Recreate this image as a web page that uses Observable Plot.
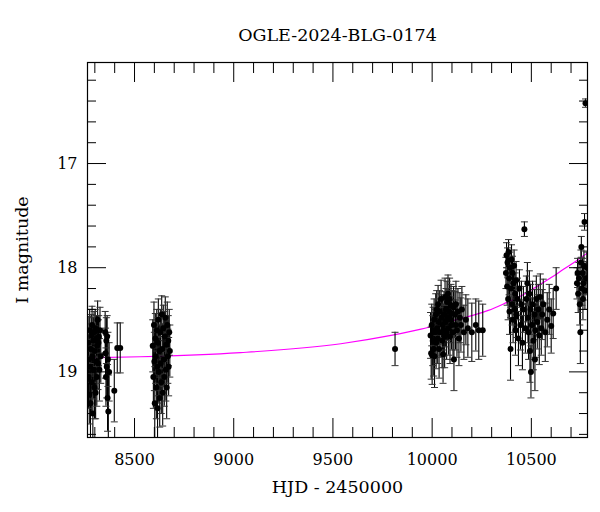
<!DOCTYPE html>
<html><head><meta charset="utf-8">
<script src="https://cdn.jsdelivr.net/npm/d3@7"></script>
<script src="https://cdn.jsdelivr.net/npm/@observablehq/plot@0.6"></script>
<style>body{margin:0;background:#fff}</style>
</head><body><div id="chart"></div>
<script>
const title = "OGLE-2024-BLG-0174";
const xLabel = "HJD - 2450000";
const yLabel = "I magnitude";

const hjd = [
 8266,8268,8270,8272,8274,8276,8278,8280,8282,8284,8286,8288,8290,8292,8294,8296,8298,8300,8302,8304,8306,8308,8310,8312,8314,8316,8318,8320,8323,8326,8330,
 8352,8354,8356,8358,8360,8362,8364,8366,8368,8372,8398,8413,8428,
 8592,8595,8598,8600,8602,8605,8607,8610,8612,8614,8616,8618,8620,8622,8625,8627,8630,8632,8635,8637,8640,8642,8645,8648,8650,8652,8655,8658,8660,8662,8665,8668,8670,8672,8675,8678,
 9813,
 9992,9995,9998,10000,10003,10005,10008,10010,10012,10015,10018,10020,10023,10025,10028,10030,10033,10035,10038,10040,10045,10048,10050,10053,10055,10058,10060,10063,10065,10068,10070,10073,10075,10078,10080,10083,10085,10088,10090,10093,10095,10098,10100,10105,10108,10110,10115,10118,10120,10125,10130,10135,10140,10145,10150,10160,10170,10180,10200,10220,10235,10255,
 10372,10375,10378,10380,10383,10385,10388,10390,10392,10395,10397,10400,10403,10405,10408,10410,10413,10415,10418,10420,10423,10425,10430,10435,10440,10445,10450,10455,10460,10465,10470,10475,10480,10483,10486,10490,10493,10496,10498,10503,10506,10510,10518,10516,10520,10525,10530,10535,10540,10545,10550,10555,10560,10570,10580,10590,10600,10610,10625,
 10730,10733,10736,10747,10752,10740,10744,10750,10755,10758,10768,10760,10773,10762,10765,10770,10776,10780
];
const mag = [
 18.72,19.05,18.88,19.22,18.60,18.95,19.30,18.78,18.65,19.10,18.55,18.85,19.40,18.70,18.98,18.62,19.15,18.80,18.58,19.20,18.90,18.68,19.05,18.75,18.50,18.92,18.72,18.66,18.98,18.60,18.85,
 18.62,18.82,19.05,18.70,18.95,18.66,19.25,18.88,19.38,19.00,19.18,18.77,18.77,
 18.75,19.05,18.55,18.90,19.30,18.68,18.85,19.15,18.60,18.95,19.35,18.72,18.50,19.00,18.80,19.25,18.62,18.92,19.10,18.45,18.78,19.20,18.58,18.88,19.05,18.66,18.48,18.98,18.74,19.15,18.55,18.85,18.70,18.95,18.62,18.80,
 18.78,
 18.65,18.82,18.55,18.84,18.70,18.60,18.78,18.50,18.85,18.62,18.45,18.72,18.40,18.58,18.68,18.35,18.52,18.78,18.42,18.62,18.30,18.48,18.70,18.55,18.83,18.60,18.45,18.66,18.28,18.52,18.40,18.62,18.33,18.48,18.25,18.58,18.42,18.30,18.66,18.50,18.36,18.55,18.44,18.62,18.38,18.88,18.45,18.55,18.35,18.60,18.42,18.68,18.48,18.55,18.40,18.62,18.50,18.58,18.62,18.55,18.60,18.60,
 18.05,17.88,18.18,17.95,18.30,17.85,18.10,18.42,18.00,18.78,18.20,17.92,18.35,18.05,18.50,18.15,17.98,18.40,18.25,18.60,18.12,18.45,18.30,18.68,18.20,18.55,18.35,18.72,18.40,17.63,18.58,18.30,18.15,18.48,18.62,18.25,18.80,18.40,19.00,18.55,18.35,18.70,18.88,18.45,18.60,18.30,18.52,18.40,18.65,18.28,18.58,18.45,18.35,18.62,18.50,18.40,18.56,18.44,18.20,
 18.15,18.05,18.25,18.62,17.80,18.10,18.35,17.95,18.20,18.05,17.56,18.30,16.42,18.15,17.98,18.22,18.10,18.00
];
const magErr = [
 0.25,0.30,0.22,0.28,0.20,0.26,0.35,0.24,0.20,0.30,0.18,0.25,0.30,0.22,0.28,0.20,0.30,0.24,0.18,0.25,0.26,0.22,0.28,0.24,0.18,0.25,0.22,0.20,0.30,0.22,0.26,
 0.20,0.24,0.28,0.22,0.30,0.20,0.32,0.26,0.35,0.28,0.30,0.24,0.24,
 0.25,0.30,0.22,0.28,0.35,0.24,0.26,0.30,0.20,0.28,0.32,0.24,0.20,0.30,0.25,0.28,0.22,0.26,0.30,0.18,0.24,0.32,0.22,0.26,0.28,0.24,0.20,0.30,0.24,0.30,0.22,0.26,0.24,0.28,0.22,0.25,
 0.16,
 0.22,0.25,0.20,0.28,0.24,0.22,0.26,0.20,0.30,0.22,0.20,0.25,0.18,0.22,0.24,0.18,0.22,0.28,0.20,0.24,0.18,0.22,0.26,0.24,0.28,0.25,0.22,0.30,0.18,0.24,0.20,0.26,0.20,0.22,0.18,0.26,0.22,0.20,0.26,0.22,0.20,0.24,0.22,0.26,0.20,0.30,0.22,0.24,0.22,0.26,0.22,0.26,0.24,0.26,0.22,0.26,0.24,0.28,0.28,0.25,0.28,0.25,
 0.15,0.12,0.18,0.14,0.20,0.12,0.16,0.22,0.15,0.30,0.18,0.14,0.20,0.16,0.22,0.18,0.15,0.22,0.20,0.24,0.18,0.22,0.20,0.26,0.18,0.24,0.22,0.26,0.22,0.07,0.24,0.22,0.20,0.24,0.26,0.22,0.30,0.24,0.25,0.26,0.22,0.28,0.30,0.24,0.26,0.22,0.26,0.24,0.28,0.22,0.26,0.24,0.24,0.28,0.26,0.24,0.26,0.24,0.20,
 0.15,0.14,0.18,0.30,0.10,0.15,0.20,0.12,0.16,0.14,0.08,0.20,0.04,0.16,0.14,0.18,0.16,0.15
];

const modelHjd = [8263,8530,9035,9540,9793,9944,10045,10111,10200,10283,10380,10449,10520,10600,10662,10730,10788];
const modelMag = [18.865,18.855,18.815,18.73,18.65,18.59,18.54,18.505,18.46,18.41,18.33,18.27,18.19,18.095,18.015,17.93,17.85];

const xMajorTicks = [8500,9000,9500,10000,10500];
const xMinorTicks = [8300,8400,8600,8700,8800,8900,9100,9200,9300,9400,9600,9700,9800,9900,10100,10200,10300,10400,10600,10700];
const yMajorTicks = [17,18,19];
const yMinorTicks = [16.2,16.4,16.6,16.8,17.2,17.4,17.6,17.8,18.2,18.4,18.6,18.8,19.2,19.4,19.6];

const obs = hjd.map((x,i)=>({hjd:x, mag:mag[i], err:magErr[i]}));
const model = modelHjd.map((x,i)=>({hjd:x, mag:modelMag[i]}));

const capSymbol = {draw(ctx, size){ ctx.moveTo(-3.5,0); ctx.lineTo(3.5,0); }};

const chart = Plot.plot({
  width:600, height:512,
  marginLeft:87, marginRight:13, marginTop:62, marginBottom:75,
  style:{fontFamily:"'DejaVu Serif', serif", fontSize:"16px", color:"#000", background:"#fff"},
  x:{domain:[8263,10783], label:null},
  y:{domain:[16.03,19.63], reverse:true, label:null},
  marks:[
    Plot.line(model, {x:"hjd", y:"mag", stroke:"#ff00ff", strokeWidth:1.2, curve:"monotone-x", clip:true}),
    Plot.ruleX(obs, {x:"hjd", y1:d=>d.mag-d.err, y2:d=>d.mag+d.err, stroke:"#000", strokeWidth:1.1, clip:true}),
    Plot.dot(obs, {x:"hjd", y:d=>d.mag-d.err, symbol:capSymbol, stroke:"#333", fill:"none", strokeWidth:1, clip:true}),
    Plot.dot(obs, {x:"hjd", y:d=>d.mag+d.err, symbol:capSymbol, stroke:"#333", fill:"none", strokeWidth:1, clip:true}),
    Plot.dot(obs, {x:"hjd", y:"mag", r:3, fill:"#000", stroke:null, clip:true}),
    Plot.frame({stroke:"#000", strokeWidth:1.2}),
    Plot.axisX({anchor:"bottom", ticks:xMajorTicks, tickSize:-19, fill:"none"}),
    Plot.axisX({anchor:"bottom", ticks:xMinorTicks, tickSize:-10, fill:"none"}),
    Plot.axisX({anchor:"top", ticks:xMajorTicks, tickSize:-19, fill:"none"}),
    Plot.axisX({anchor:"top", ticks:xMinorTicks, tickSize:-10, fill:"none"}),
    Plot.axisX({anchor:"bottom", ticks:xMajorTicks, tickSize:0, tickPadding:16, tickFormat:d=>String(d), fontSize:16}),
    Plot.axisY({anchor:"left", ticks:yMajorTicks, tickSize:-19, fill:"none"}),
    Plot.axisY({anchor:"left", ticks:yMinorTicks, tickSize:-9, fill:"none"}),
    Plot.axisY({anchor:"right", ticks:yMajorTicks, tickSize:-19, fill:"none"}),
    Plot.axisY({anchor:"right", ticks:yMinorTicks, tickSize:-9, fill:"none"}),
    Plot.axisY({anchor:"left", ticks:yMajorTicks, tickSize:0, tickPadding:10, tickFormat:d=>String(d), fontSize:16}),
    Plot.text([title], {text:d=>d, frameAnchor:"top", dy:-27, fontSize:17.5, lineAnchor:"middle", textAnchor:"middle"}),
    Plot.text([xLabel], {text:d=>d, frameAnchor:"bottom", dy:50, fontSize:17.5, lineAnchor:"middle", textAnchor:"middle"}),
    Plot.text([yLabel], {text:d=>d, frameAnchor:"left", dx:-65, rotate:-90, fontSize:17.5, lineAnchor:"middle", textAnchor:"middle"})
  ]
});
document.getElementById("chart").append(chart);
</script>
</body></html>
